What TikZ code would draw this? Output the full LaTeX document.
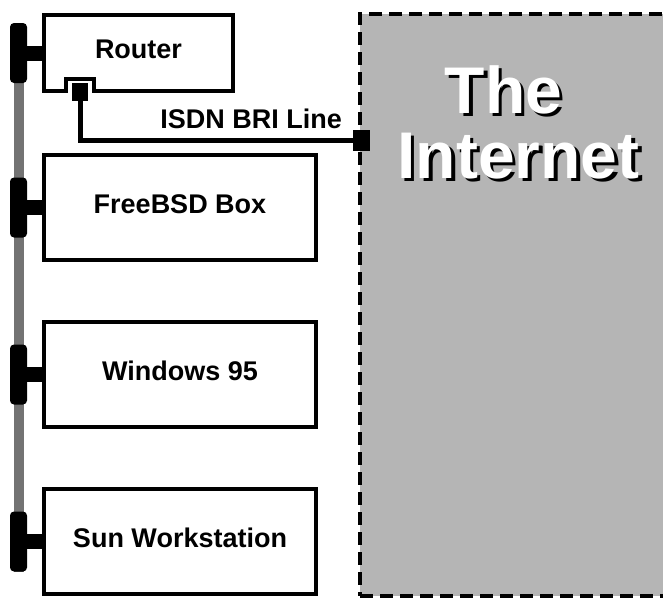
\documentclass[tikz,border=0pt]{standalone}
\usepackage{fontspec}
\setmainfont{Liberation Sans}
\usetikzlibrary{positioning}
\definecolor{lanGray}{RGB}{115,115,115}
\definecolor{cloudGray}{RGB}{181,181,181}
\newcommand{\shadowword}[1]{%
  \makebox[0pt][l]{\hspace{3.5pt}\raisebox{-3.5pt}{\color{black}#1}}{\color{white}#1}}

\begin{document}
\begin{tikzpicture}[
  x=1pt, y=-1pt,
  host/.style={
    draw,
    line width=4pt,
    minimum width=272pt,
    minimum height=105pt,
    text height=19pt,
    text depth=8pt,
    font=\fontsize{27}{32}\selectfont\bfseries
  },
  tap/.style={fill=black,rounded corners=4pt,minimum width=17pt,minimum height=60pt,inner sep=0pt},
  stub/.style={line width=15pt},
  bus/.style={line width=10pt,lanGray},
  port/.style={fill=black,inner sep=0pt,outer sep=0pt},
  isdn/.style={line width=5pt},
  cloud/.style={
    draw,
    line width=4pt,
    dash pattern=on 13pt off 7pt,
    fill=cloudGray,
    minimum width=340pt,
    minimum height=582pt
  },
  inet/.style={inner sep=0pt,font=\fontsize{66}{66}\selectfont\bfseries}
]
  \clip (0,0) rectangle (663,597);
  \node[cloud] (internet) at (530,305) {};
  \node[inet,anchor=base] (the) at (503.5,113) {\shadowword{The}};
  \node[inet,anchor=base] (internetText) at (518.5,178) {\shadowword{Internet}};

  % hosts
  \node[host,minimum width=189pt,minimum height=76pt] (router) at (138.5,53) {Router};
  \node[host,below=60pt of router.south west,anchor=north west] (freebsd) {FreeBSD Box};
  \node[host,below=58pt of freebsd] (windows) {Windows 95};
  \node[host,below=58pt of windows] (sun) {Sun Workstation};

  % the lan
  \coordinate (bustop) at (18.5,24);
  \coordinate (busbot) at (18.5,572);
  \draw[bus] (bustop) -- (busbot);
  \node[tap] (tapR) at (bustop |- router.west) {};
  \node[tap] (tapF) at (bustop |- freebsd.west) {};
  \node[tap] (tapW) at (bustop |- windows.west) {};
  \node[tap] (tapS) at (bustop |- sun.west) {};
  \draw[stub] (tapR.east) -- (router.west);
  \draw[stub] (tapF.east) -- (freebsd.west);
  \draw[stub] (tapW.east) -- (windows.west);
  \draw[stub] (tapS.east) -- (sun.west);

  % isdn link
  \node[port,fill=white,minimum width=28.5pt,minimum height=14pt] (notch) at (79.75,85.5) {};
  \draw[line width=4pt] (notch.south west) -- (notch.north west) -- (notch.north east) -- (notch.south east);
  \node[port,minimum width=16pt,minimum height=18pt] (rport) at (80,92) {};
  \node[port,minimum width=17pt,minimum height=21pt] (iport) at (361.5,140.5) {};
  \draw[isdn] (rport.south) |- (iport.west);
  \node[inner sep=0pt,anchor=base east,font=\fontsize{27}{32}\selectfont\bfseries] (isdnlabel) at ([xshift=-11pt,yshift=12.5pt]iport.west) {ISDN BRI Line};
\end{tikzpicture}
\end{document}
